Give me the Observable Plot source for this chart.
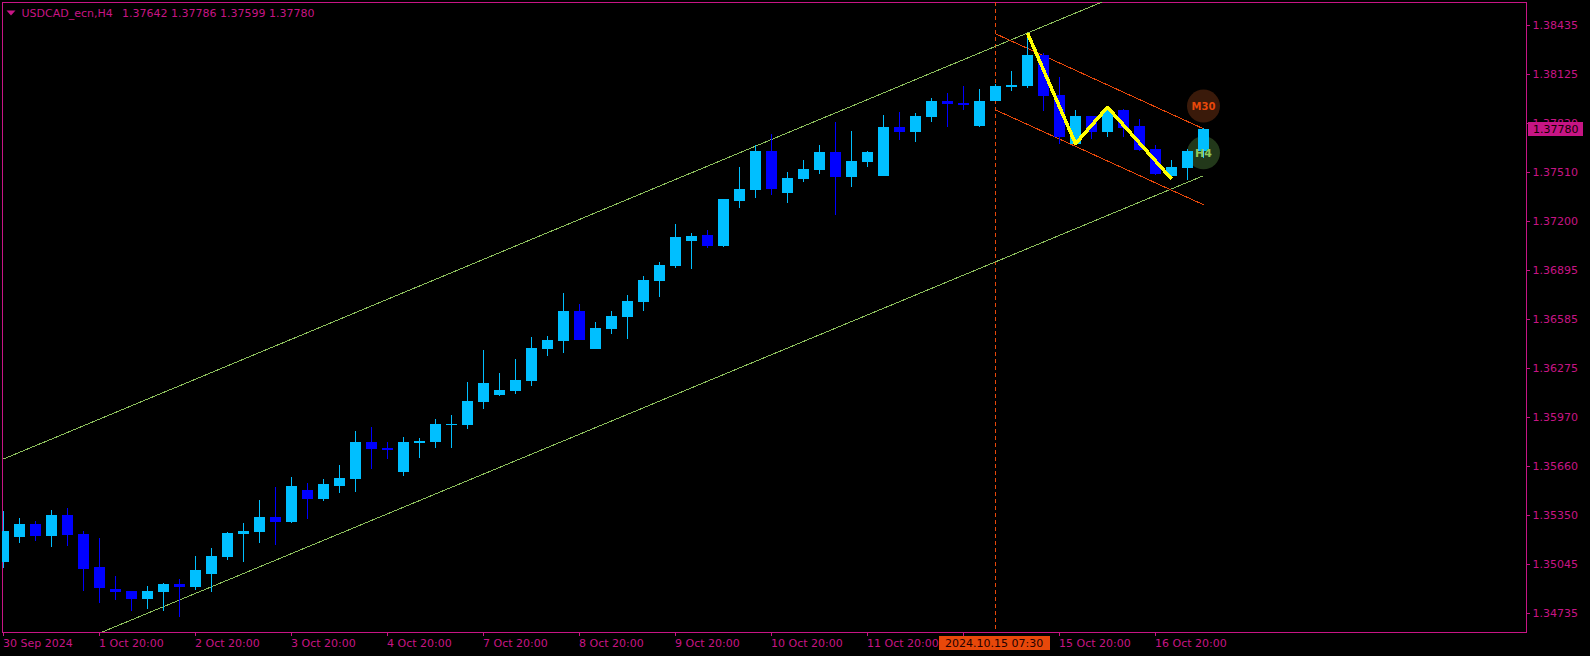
<!DOCTYPE html>
<html><head><meta charset="utf-8">
<style>html,body{margin:0;padding:0;background:#000}svg{display:block}</style>
<script src="https://cdn.jsdelivr.net/npm/d3@7"></script>
<script src="https://cdn.jsdelivr.net/npm/@observablehq/plot@0.6"></script>
</head><body><div id="chart"></div>
<script>
const opens=[1.35056,1.35214,1.35296,1.35220,1.35352,1.35233,1.35025,1.34886,1.34874,1.34823,1.34867,1.34918,1.34899,1.34981,1.35088,1.35233,1.35245,1.35340,1.35308,1.35509,1.35452,1.35534,1.35578,1.35811,1.35773,1.35622,1.35805,1.35811,1.35918,1.35918,1.36063,1.36107,1.36132,1.36195,1.36396,1.36447,1.36636,1.36396,1.36522,1.36598,1.36692,1.36825,1.36918,1.37076,1.37114,1.37044,1.37328,1.37397,1.37642,1.37378,1.37466,1.37523,1.37636,1.37479,1.37573,1.37485,1.37793,1.37761,1.37856,1.37957,1.37944,1.37799,1.37957,1.38045,1.38051,1.38246,1.37995,1.37686,1.37862,1.37761,1.37900,1.37799,1.37654,1.37485,1.37535,1.37642];
const closes=[1.35252,1.35296,1.35220,1.35352,1.35227,1.35012,1.34893,1.34867,1.34823,1.34874,1.34918,1.34899,1.35006,1.35094,1.35239,1.35252,1.35340,1.35308,1.35534,1.35452,1.35547,1.35585,1.35811,1.35767,1.35761,1.35811,1.35818,1.35925,1.35925,1.36070,1.36182,1.36138,1.36201,1.36403,1.36453,1.36636,1.36453,1.36529,1.36604,1.36699,1.36831,1.36925,1.37101,1.37107,1.37044,1.37340,1.37403,1.37642,1.37403,1.37473,1.37529,1.37636,1.37479,1.37579,1.37636,1.37793,1.37761,1.37862,1.37957,1.37938,1.37931,1.37957,1.38051,1.38057,1.38246,1.37988,1.37730,1.37862,1.37761,1.37894,1.37787,1.37648,1.37498,1.37542,1.37642,1.37780];
const highs=[1.35377,1.35333,1.35315,1.35383,1.35396,1.35252,1.35208,1.34968,1.34874,1.34905,1.34924,1.34949,1.35094,1.35145,1.35245,1.35302,1.35446,1.35528,1.35591,1.35553,1.35578,1.35667,1.35881,1.35906,1.35811,1.35843,1.35837,1.35956,1.35981,1.36188,1.36390,1.36245,1.36334,1.36472,1.36478,1.36749,1.36680,1.36566,1.36636,1.36736,1.36856,1.36944,1.37183,1.37126,1.37145,1.37340,1.37542,1.37680,1.37749,1.37510,1.37586,1.37680,1.37825,1.37768,1.37642,1.37868,1.37888,1.37881,1.37976,1.38007,1.38051,1.38032,1.38064,1.38146,1.38385,1.38259,1.38108,1.37900,1.37862,1.37919,1.37906,1.37843,1.37680,1.37586,1.37654,1.37786];
const lows=[1.35019,1.35176,1.35189,1.35151,1.35157,1.34874,1.34798,1.34817,1.34748,1.34760,1.34748,1.34710,1.34880,1.34867,1.35069,1.35056,1.35176,1.35164,1.35302,1.35327,1.35440,1.35490,1.35496,1.35641,1.35704,1.35597,1.35711,1.35773,1.35773,1.35893,1.36019,1.36101,1.36113,1.36163,1.36352,1.36371,1.36453,1.36396,1.36491,1.36459,1.36636,1.36724,1.36906,1.36900,1.37032,1.37038,1.37284,1.37347,1.37366,1.37315,1.37447,1.37498,1.37240,1.37416,1.37542,1.37485,1.37711,1.37698,1.37825,1.37793,1.37900,1.37793,1.37957,1.38020,1.38039,1.37894,1.37686,1.37686,1.37718,1.37730,1.37730,1.37642,1.37491,1.37485,1.37460,1.37599];

const priceTicks=[1.38435,1.38125,1.37820,1.37510,1.37200,1.36895,1.36585,1.36275,1.35970,1.35660,1.35350,1.35045,1.34735];
const timeTicks=[0,6,12,18,24,30,36,42,48,54,60,66,72];
const timeLabels=["30 Sep 2024","1 Oct 20:00","2 Oct 20:00","3 Oct 20:00","4 Oct 20:00","7 Oct 20:00","8 Oct 20:00","9 Oct 20:00","10 Oct 20:00","11 Oct 20:00","","15 Oct 20:00","16 Oct 20:00"];

const greenUpper=[[0,1.35707],[70,1.38639]];
const greenLower=[[6.16,1.34618],[75,1.37490]];
const orangeUpper=[[62,1.38383],[75,1.37785]];
const orangeLower=[[62,1.37904],[75,1.37307]];
const zigzag=[[64,1.38387],[67,1.37691],[69,1.37921],[73,1.37470]];
const cursorIndex=62;
const cursorLabel="2024.10.15 07:30";
const cursorBox={x1:58.53,x2:65.41,y1:1.34591,y2:1.34503};
const lastPrice=1.37780;
const priceBox={x1:95.34,x2:98.78,y1:1.37825,y2:1.37737};
const badges=[{i:75,p:1.37928,t:"M30",bg:"#3a1a0a",fg:"#e8480a",size:10},{i:75,p:1.37634,t:"H4",bg:"#22381a",fg:"#8fc85a",size:11}];
const header="USDCAD_ecn,H4";
const headerValues="1.37642 1.37786 1.37599 1.37780";

const AXIS="#C71585",UP="#00BFFF",DOWN="#0000FF",GREEN="#8cbf5c",ORANGE="#e8480a",YELLOW="#FFFF00";
const FONT="'DejaVu Sans'";
const candles=opens.map((o,i)=>({i,o,c:closes[i],h:highs[i],l:lows[i]}));
const col=d=>d.c>=d.o?UP:DOWN;
const crisp={shapeRendering:"crispEdges"};
const ln=(pts,stroke,w=1)=>Plot.line(pts,{x:d=>d[0],y:d=>d[1],stroke,strokeWidth:w,clip:true,curve:"linear",strokeLinecap:"butt",strokeLinejoin:"miter",...crisp});

const chart=Plot.plot({
  width:1590,height:656,
  marginLeft:2,marginRight:64,marginTop:2,marginBottom:24,
  x:{domain:[-0.0625,95.1875]},
  y:{domain:[1.346155,1.385797]},
  style:{background:"#000",fontFamily:FONT,fontSize:"11px"},
  marks:[
    Plot.frame({stroke:AXIS,...crisp}),
    Plot.ruleX([cursorIndex],{stroke:ORANGE,strokeDasharray:"4,3",...crisp}),
    ln(greenUpper,GREEN),ln(greenLower,GREEN),
    ln(orangeUpper,ORANGE),ln(orangeLower,ORANGE),
    Plot.dot(badges,{x:"i",y:"p",r:16.5,fill:"bg",stroke:null}),
    Plot.ruleX(candles,{x:"i",y1:"l",y2:"h",stroke:col,strokeWidth:1,clip:true,...crisp}),
    Plot.ruleX(candles,{x:"i",y1:"o",y2:"c",stroke:col,strokeWidth:11,clip:true,...crisp}),
    ln(zigzag,YELLOW,3.5),
    Plot.text(badges,{x:"i",y:"p",text:"t",fill:"fg",fontSize:"size",fontWeight:"bold",dy:0.5}),
    Plot.axisX(timeTicks,{anchor:"bottom",tickSize:4,tickPadding:3,textAnchor:"start",dx:-0.5,
      tickFormat:d=>timeLabels[timeTicks.indexOf(d)],stroke:AXIS,fill:AXIS,fontSize:11,label:null,...crisp}),
    Plot.axisY(priceTicks,{anchor:"right",tickSize:3,tickPadding:3,tickFormat:d=>d.toFixed(5),
      stroke:AXIS,fill:AXIS,fontSize:11,label:null,...crisp}),
    Plot.rect([cursorBox],{x1:"x1",x2:"x2",y1:"y1",y2:"y2",fill:ORANGE,...crisp}),
    Plot.text([cursorLabel],{x:()=>cursorBox.x1,y:()=>(cursorBox.y1+cursorBox.y2)/2,textAnchor:"start",dx:5,text:d=>d,fill:"#200",fontSize:11}),
    Plot.rect([priceBox],{x1:"x1",x2:"x2",y1:"y1",y2:"y2",fill:AXIS,...crisp}),
    Plot.text([lastPrice],{frameAnchor:"right",y:d=>d,textAnchor:"start",dx:6.5,text:d=>d.toFixed(5),fill:"#100",fontSize:11}),
    Plot.dot([0],{frameAnchor:"top-left",dx:8.5,dy:10.5,fill:AXIS,stroke:null,
      symbol:{draw(c){c.moveTo(-4.5,-2.5);c.lineTo(4.5,-2.5);c.lineTo(0,2.5);c.closePath();}}}),
    Plot.text([header],{frameAnchor:"top-left",textAnchor:"start",dx:19,dy:10.5,lineAnchor:"middle",text:d=>d,fill:AXIS,fontSize:11}),
    Plot.text([headerValues],{frameAnchor:"top-left",textAnchor:"start",dx:119.5,dy:10.5,lineAnchor:"middle",text:d=>d,fill:AXIS,fontSize:11})
  ]
});
document.getElementById("chart").append(chart);
</script></body></html>
